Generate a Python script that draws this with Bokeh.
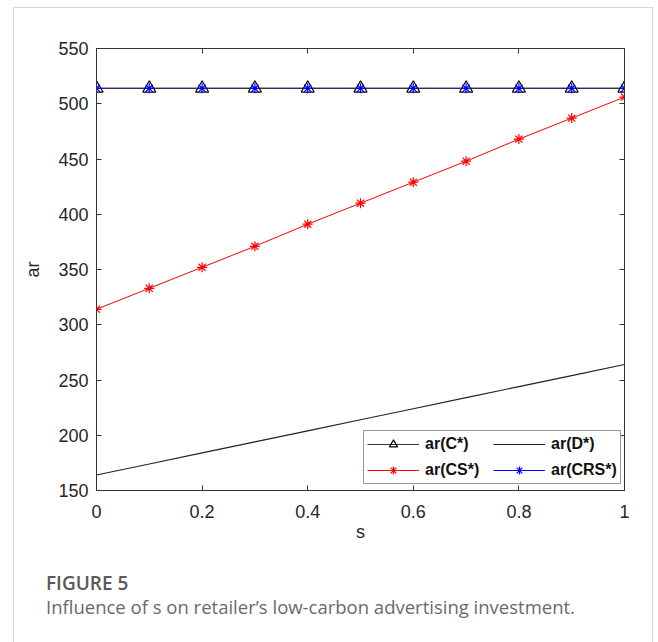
from bokeh.plotting import figure
from bokeh.models import LinearAxis, Legend, LegendItem, Div, Range1d, FixedTicker, CustomJSTickFormatter
from bokeh.layouts import column
from bokeh.embed import file_html
from bokeh.resources import INLINE

s = [0.0, 0.1, 0.2, 0.3, 0.4, 0.5, 0.6, 0.7, 0.8, 0.9, 1.0]
ar_C = [514, 514, 514, 514, 514, 514, 514, 514, 514, 514, 514]
ar_D = [164, 174, 184, 194, 204, 214, 224, 234, 244, 254, 264]
ar_CS = [314, 333, 352, 371, 391, 410, 429, 448, 468, 487, 506]
ar_CRS = [514, 514, 514, 514, 514, 514, 514, 514, 514, 514, 514]
x_ticks = [0, 0.2, 0.4, 0.6, 0.8, 1]
y_ticks = [150, 200, 250, 300, 350, 400, 450, 500, 550]

FONT = "Liberation Sans"
AX = "#333333"

p = figure(width=638, height=544, output_backend="svg", toolbar_location=None,
           x_range=Range1d(0, 1), y_range=Range1d(150, 550),
           min_border_left=82, min_border_top=40, min_border_right=28, min_border_bottom=62)
p.grid.visible = False
p.outline_line_color = AX
p.outline_line_width = 1
p.background_fill_color = "white"
p.border_fill_color = "white"

for ax in (p.xaxis[0], p.yaxis[0]):
    ax.major_tick_in = 5
    ax.major_tick_out = 0
    ax.minor_tick_in = 0
    ax.minor_tick_out = 0
    ax.axis_line_color = AX
    ax.major_tick_line_color = AX
    ax.major_label_text_font = FONT
    ax.major_label_text_font_size = "18px"
    ax.major_label_text_color = "#262626"
    ax.axis_label_text_font = FONT
    ax.axis_label_text_font_size = "18px"
    ax.axis_label_text_font_style = "normal"
    ax.axis_label_text_color = "#262626"
p.xaxis[0].ticker = FixedTicker(ticks=x_ticks)
p.yaxis[0].ticker = FixedTicker(ticks=y_ticks)
p.xaxis[0].axis_label = "s"
p.yaxis[0].axis_label = "ar"
p.xaxis[0].major_label_standoff = 14
p.yaxis[0].major_label_standoff = 8
p.xaxis[0].axis_label_standoff = 1
p.yaxis[0].axis_label_standoff = 12

blank = CustomJSTickFormatter(code="return ''")
top = LinearAxis(ticker=FixedTicker(ticks=x_ticks), formatter=blank,
                 major_tick_in=5, major_tick_out=0, minor_tick_in=0, minor_tick_out=0,
                 axis_line_color=AX, major_tick_line_color=AX)
right = LinearAxis(ticker=FixedTicker(ticks=y_ticks), formatter=blank,
                   major_tick_in=5, major_tick_out=0, minor_tick_in=0, minor_tick_out=0,
                   axis_line_color=AX, major_tick_line_color=AX)
p.add_layout(top, "above")
p.add_layout(right, "right")

l_crs = p.line(s, ar_CRS, line_color="blue", line_width=1)
l_c = p.line(s, ar_C, line_color="#333333", line_width=1.2)
l_d = p.line(s, ar_D, line_color="#222222", line_width=1.2)
l_cs = p.line(s, ar_CS, line_color="red", line_width=1)
m_c = p.scatter(s, ar_C, marker="triangle", size=13, fill_color=None, line_color="black", line_width=1.2)
m_cs = p.scatter(s, ar_CS, marker="asterisk", size=10, line_color="red", line_width=1.2)
m_crs = p.scatter(s, ar_CRS, marker="asterisk", size=10, line_color="blue", line_width=1.2)

legend = Legend(items=[
    LegendItem(label="ar(C*)", renderers=[l_c, m_c]),
    LegendItem(label="ar(CS*)", renderers=[l_cs, m_cs]),
    LegendItem(label="ar(D*)", renderers=[l_d]),
    LegendItem(label="ar(CRS*)", renderers=[l_crs, m_crs]),
], ncols=2, location=(267, 6))
legend.label_text_font = FONT
legend.label_text_font_size = "16px"
legend.label_text_font_style = "bold"
legend.label_text_color = "#111111"
legend.label_width = 62
legend.label_height = 20
legend.glyph_width = 52
legend.glyph_height = 20
legend.label_standoff = 6
legend.spacing = 6
legend.padding = 3
legend.margin = 0
legend.border_line_color = AX
legend.border_line_width = 1
legend.background_fill_alpha = 1
p.add_layout(legend, "center")

caption = Div(text=(
    '<div style="font-family:\'Open Sans\';font-weight:600;font-size:19px;color:#5a5a5a;line-height:24px;white-space:nowrap;">FIGURE 5</div>'
    '<div style="font-family:\'Open Sans\';font-size:18.5px;color:#6a6a6a;line-height:24px;white-space:nowrap;">'
    'Influence of s on retailer\u2019s low-carbon advertising investment.</div>'),
    width=620, height=85, styles={"padding-left": "27px", "padding-top": "14px"})

layout = column(p, caption, styles={"border-top": "1px solid #d6d6d6", "border-left": "1px solid #d6d6d6",
                                     "border-right": "1px solid #d6d6d6"},
                margin=(7, 0, 0, 13))

open("out.html", "w").write(file_html(layout, INLINE))
